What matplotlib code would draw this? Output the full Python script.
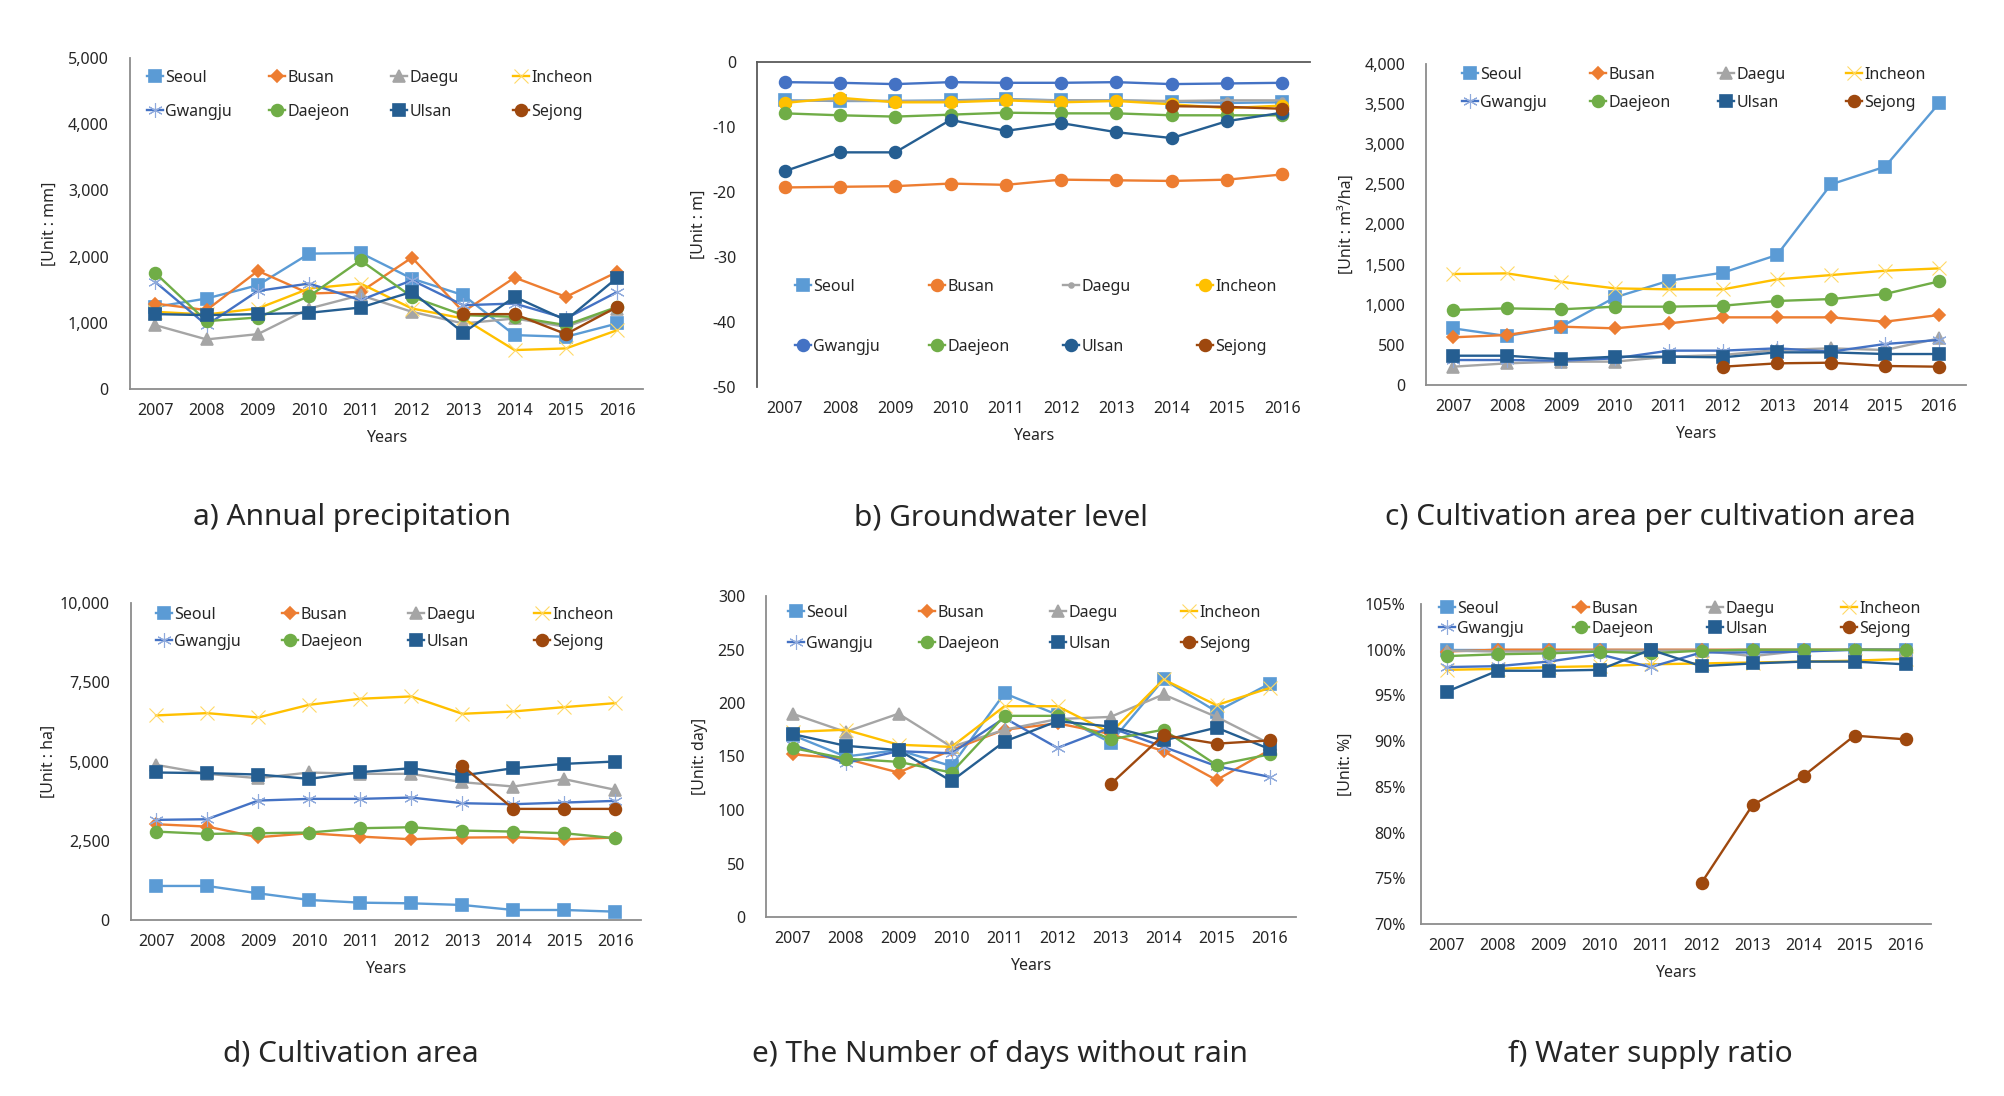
import matplotlib
matplotlib.use('Agg')
import matplotlib.pyplot as plt
from matplotlib.legend import Legend
from matplotlib.ticker import FuncFormatter
import numpy as np

plt.rcParams['font.family'] = ['Noto Sans', 'DejaVu Sans']

years = ['2007', '2008', '2009', '2010', '2011', '2012', '2013', '2014', '2015', '2016']
cities = ['Seoul', 'Busan', 'Daegu', 'Incheon', 'Gwangju', 'Daejeon', 'Ulsan', 'Sejong']

precip = {
    'Seoul':   [1240, 1367, 1568, 2045, 2055, 1668, 1417, 814, 789, 990],
    'Busan':   [1291, 1191, 1784, 1442, 1467, 1985, 1166, 1683, 1392, 1769],
    'Daegu':   [965, 749, 829, 1216, 1417, 1166, 990, 1065, 940, 1216],
    'Incheon': [1166, 1126, 1216, 1518, 1593, 1216, 1065, 588, 613, 889],
    'Gwangju': [1618, 965, 1482, 1593, 1342, 1643, 1266, 1291, 1065, 1467],
    'Daejeon': [1754, 1025, 1080, 1402, 1945, 1392, 1116, 1090, 965, 1241],
    'Ulsan':   [1131, 1116, 1131, 1151, 1231, 1467, 849, 1392, 1040, 1683],
    'Sejong':  [None, None, None, None, None, None, 1131, 1131, 829, 1241],
}

groundwater = {
    'Seoul':   [-5.9, -6.0, -6.0, -5.9, -5.7, -5.9, -5.9, -6.1, -6.3, -6.2],
    'Busan':   [-19.3, -19.2, -19.1, -18.7, -18.9, -18.1, -18.2, -18.3, -18.1, -17.3],
    'Daegu':   [-6.0, -5.9, -6.0, -6.0, -5.8, -5.9, -5.9, -6.0, -5.9, -5.9],
    'Incheon': [-6.3, -5.5, -6.2, -6.2, -5.9, -6.2, -6.0, -6.5, -7.1, -6.7],
    'Gwangju': [-3.1, -3.2, -3.4, -3.1, -3.2, -3.2, -3.1, -3.4, -3.3, -3.2],
    'Daejeon': [-7.9, -8.2, -8.4, -8.1, -7.8, -7.9, -7.9, -8.2, -8.2, -8.2],
    'Ulsan':   [-16.8, -13.9, -13.9, -8.9, -10.6, -9.4, -10.8, -11.7, -9.1, -7.8],
    'Sejong':  [None, None, None, None, None, None, None, -6.8, -6.9, -7.2],
}

water_per_area = {
    'Seoul':   [706, 610, 727, 1092, 1300, 1400, 1620, 2500, 2720, 3509],
    'Busan':   [594, 623, 727, 706, 768, 843, 843, 843, 789, 872],
    'Daegu':   [228, 270, 291, 291, 353, 374, 436, 457, 436, 581],
    'Incheon': [1383, 1391, 1287, 1204, 1192, 1192, 1316, 1370, 1424, 1453],
    'Gwangju': [311, 311, 303, 332, 428, 428, 457, 415, 511, 561],
    'Daejeon': [934, 955, 943, 976, 976, 988, 1047, 1071, 1134, 1291],
    'Ulsan':   [365, 365, 320, 353, 353, 345, 407, 407, 386, 386],
    'Sejong':  [None, None, None, None, None, 228, 270, 278, 237, 228],
}

cult_area = {
    'Seoul':   [1074, 1074, 842, 632, 547, 526, 474, 316, 316, 263],
    'Busan':   [3021, 2947, 2611, 2737, 2632, 2547, 2600, 2611, 2547, 2600],
    'Daegu':   [4895, 4611, 4474, 4653, 4611, 4611, 4347, 4211, 4442, 4105],
    'Incheon': [6453, 6526, 6389, 6789, 6979, 7053, 6505, 6579, 6716, 6842],
    'Gwangju': [3158, 3179, 3768, 3821, 3821, 3863, 3684, 3653, 3705, 3758],
    'Daejeon': [2789, 2716, 2737, 2758, 2895, 2926, 2821, 2789, 2737, 2579],
    'Ulsan':   [4653, 4632, 4589, 4453, 4663, 4789, 4558, 4789, 4926, 5000],
    'Sejong':  [None, None, None, None, None, None, 4863, 3505, 3505, 3505],
}

dry_days = {
    'Seoul':   [170, 150, 156, 141, 209, 189, 163, 222, 192, 218],
    'Busan':   [152, 148, 135, 156, 175, 181, 171, 155, 128, 156],
    'Daegu':   [190, 173, 190, 159, 175, 185, 187, 208, 187, 162],
    'Incheon': [173, 175, 161, 159, 197, 197, 172, 222, 198, 214],
    'Gwangju': [161, 144, 155, 153, 186, 158, 177, 159, 141, 131],
    'Daejeon': [158, 148, 145, 135, 188, 188, 166, 175, 142, 152],
    'Ulsan':   [171, 160, 156, 127, 164, 183, 178, 165, 177, 157],
    'Sejong':  [None, None, None, None, None, None, 124, 170, 162, 165],
}

supply_ratio = {
    'Seoul':   [100, 100, 100, 100, 100, 100, 100, 100, 100, 100],
    'Busan':   [99.8, 100, 100, 100, 100, 100, 100, 100, 100, 100],
    'Daegu':   [99.9, 99.8, 99.8, 99.9, 99.9, 99.9, 99.3, 99.9, 100, 99.9],
    'Incheon': [97.8, 97.9, 98.1, 98.2, 98.4, 98.5, 98.6, 98.7, 98.8, 99.0],
    'Gwangju': [98.1, 98.2, 98.7, 99.5, 98.1, 99.7, 99.7, 99.8, 100, 100],
    'Daejeon': [99.3, 99.5, 99.6, 99.8, 99.6, 99.9, 100, 100, 100, 100],
    'Ulsan':   [95.4, 97.7, 97.7, 97.8, 100, 98.2, 98.5, 98.7, 98.7, 98.4],
    'Sejong':  [None, None, None, None, None, 74.5, 83.0, 86.2, 90.6, 90.2],
}

colors = {'Seoul': '#5B9BD5', 'Busan': '#ED7D31', 'Daegu': '#A5A5A5', 'Incheon': '#FFC000',
          'Gwangju': '#4472C4', 'Daejeon': '#70AD47', 'Ulsan': '#255E91', 'Sejong': '#9E480E'}
markers = {'Seoul': 's', 'Busan': 'D', 'Daegu': '^', 'Incheon': 'x',
           'Gwangju': (6, 2, 0), 'Daejeon': 'o', 'Ulsan': 's', 'Sejong': 'o'}
msizes = {'Seoul': 8, 'Busan': 6.5, 'Daegu': 8, 'Incheon': 9.5,
          'Gwangju': 10.5, 'Daejeon': 8.5, 'Ulsan': 8.5, 'Sejong': 8.5}
# thin strokes for the x / asterisk markers, like the Excel originals
mews = {'Incheon': 0.8, 'Gwangju': 0.8}
mcols = {'Incheon': '#FFD966', 'Gwangju': '#8FAADC'}

W, H = 2004, 1096
TXT = '#262626'
AX = '#8C8C8C'
FS = 11.5

fig = plt.figure(figsize=(W / 100, H / 100), dpi=100)


def fx(px):
    return px / W


def fy(py):
    return 1 - py / H


def panel(data, box, ylim, yticks, fmt, ylabel, caption, cap_xy, leg, top_axis=False,
          ypad=15, bold_label=False, b_markers=False):
    l, t, r, b = box
    ax = fig.add_axes([fx(l), fy(b), fx(r - l), (b - t) / H])
    x = np.arange(len(years))
    lines = []
    for c in cities:
        y = np.array(data[c], dtype=float)
        m, ms = markers[c], msizes[c]
        mc = mcols.get(c, colors[c])
        mew = mews.get(c, 1.2)
        if b_markers:
            m = 's' if c == 'Seoul' else 'o'
            ms = 3.5 if c == 'Daegu' else 8.5
            mc, mew = colors[c], 1.2
        ln, = ax.plot(x, y, color=colors[c], lw=1.7, marker=m, ms=ms,
                      mfc=mc, mec=mc, mew=mew, clip_on=False)
        lines.append(ln)
    ax.set_xlim(-0.5, len(years) - 0.5)
    ax.set_ylim(*ylim)
    ax.set_xticks(x)
    ax.set_xticklabels(years)
    ax.set_yticks(yticks)
    ax.yaxis.set_major_formatter(FuncFormatter(fmt))
    ax.tick_params(length=0, labelsize=FS, colors=TXT)
    ax.tick_params(axis='x', pad=10)
    ax.tick_params(axis='y', pad=ypad)
    for s in ['right', 'top', 'bottom', 'left']:
        ax.spines[s].set_visible(False)
    spc = '#5A5A5A' if top_axis else AX
    edge = 'top' if top_axis else 'bottom'
    for s in ['left', edge]:
        ax.spines[s].set_visible(True)
        ax.spines[s].set_color(spc)
        ax.spines[s].set_linewidth(1.3)
    ax.set_xlabel('Years', fontsize=FS, color=TXT, labelpad=8)
    fig.text(fx(l - ylabel[1]), fy((t + b) / 2), ylabel[0], rotation=90, ha='center', va='center',
             fontsize=FS, color=TXT, fontweight='bold' if bold_label else 'normal')
    fig.text(fx(cap_xy[0]), fy(cap_xy[1]), caption, ha='center', va='center',
             fontsize=21.5, color=TXT)
    # Excel-style legend: 4 equal columns, 2 rows
    x0, xstep, y0, ystep = leg
    hl = 1.0
    for i, (c, ln) in enumerate(zip(cities, lines)):
        col, row = i % 4, i // 4
        mx = x0 + col * xstep - hl * FS / 0.72 / 2
        my = y0 + row * ystep
        lg = Legend(ax, [ln], [c], loc='center left',
                    bbox_to_anchor=(fx(mx), fy(my)), bbox_transform=fig.transFigure,
                    frameon=False, borderpad=0, borderaxespad=0, handlelength=hl,
                    handletextpad=0.15, fontsize=FS, numpoints=1, labelcolor=TXT)
        ax.add_artist(lg)
    return ax


comma = lambda v, p: f'{v:,.0f}'
plain = lambda v, p: f'{v:.0f}'
pct = lambda v, p: f'{v:.0f}%'

panel(precip, (129.5, 58, 643, 389), (0, 5000), range(0, 5001, 1000), comma,
      ('[Unit : mm]', 80), 'a) Annual precipitation', (352, 518), (155, 122, 78, 34))
panel(groundwater, (757, 62, 1310, 387), (-50, 0), range(-50, 1, 10), plain,
      ('[Unit : m]', 58), 'b) Groundwater level', (1001, 518), (803, 134, 287, 60),
      top_axis=True, b_markers=True)
panel(water_per_area, (1426, 64, 1966, 385), (0, 4000), range(0, 4001, 500), comma,
      ('[Unit : m³/ha]', 78), 'c) Cultivation area per cultivation area', (1650, 518),
      (1470, 128, 75, 28), bold_label=True)
panel(cult_area, (130.5, 603, 641, 920), (0, 10000), range(0, 10001, 2500), comma,
      ('[Unit : ha]', 82), 'd) Cultivation area', (351, 1054), (164, 126, 615, 27))
panel(dry_days, (766, 596, 1296, 917), (0, 300), range(0, 301, 50), plain,
      ('[Unit: day]', 66), 'e) The Number of days without rain', (1000, 1054),
      (796, 131, 613, 31))
panel(supply_ratio, (1421, 604, 1931, 924), (70, 105), range(70, 106, 5), pct,
      ('[Unit: %]', 75), 'f) Water supply ratio', (1650, 1054), (1447, 134, 609, 20),
      ypad=11, bold_label=True)

fig.savefig('out.png', dpi=100, facecolor='white')
